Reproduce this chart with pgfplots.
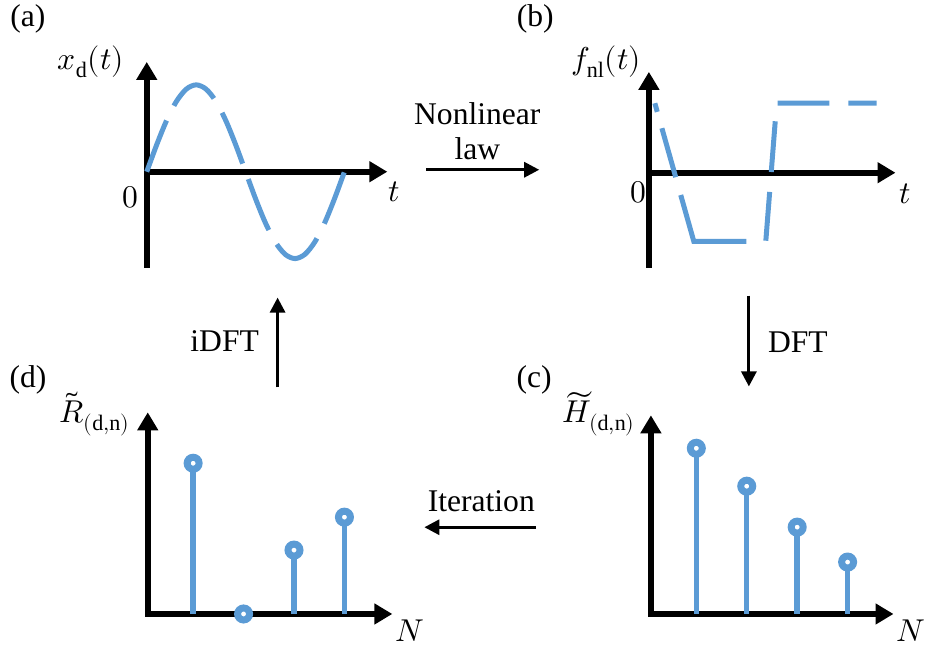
\documentclass[border=0pt]{standalone}
\usepackage{fontspec}
\usepackage{unicode-math}
\setmainfont{Liberation Serif}
\setmathfont{Latin Modern Math}
\usepackage{pgfplots}
\pgfplotsset{compat=1.18}
\usetikzlibrary{arrows.meta}

\definecolor{sigblue}{RGB}{91,155,213}

\pgfplotsset{
  sketch/.style={
    scale only axis, axis lines=middle, clip=false,
    xtick=\empty, ytick=\empty,
    axis line style={line width=0.12cm, line cap=rect,
      -{Triangle[length=0.36cm,width=0.4cm]}},
  },
  wave/.style={sigblue, line width=0.1cm},
  stem/.style={sigblue, ycomb, line width=0.11cm, mark=*, mark size=0.12cm,
    mark options={solid, fill=white, line width=0.14cm}},
}

\begin{document}
\begin{tikzpicture}[x=0.02cm, y=-0.02cm, font=\fontsize{18}{21.6}\selectfont,
  every node/.style={inner sep=0pt}]
\path (0,0) rectangle (925,650);

% (a) desired signal
\begin{axis}[sketch, at={(2.94cm,-3.44cm)}, anchor=origin,
  width=4.82cm, height=4.06cm,
  xmin=0, xmax=1.217, ymin=-1.069, ymax=1.264]
\addplot[wave, smooth, dash pattern=on 1.1cm off 0.33cm] coordinates {
  (0,0) (0.05,0.309) (0.1,0.588) (0.15,0.809) (0.2,0.951) (0.25,1)
  (0.3,0.951) (0.35,0.809) (0.4,0.588) (0.45,0.309) (0.5,0)
  (0.55,-0.309) (0.6,-0.588) (0.65,-0.809) (0.7,-0.951) (0.75,-1)
  (0.8,-0.951) (0.85,-0.809) (0.9,-0.588) (0.95,-0.309) (1,0)
};
\end{axis}

% (b) nonlinear force
\begin{axis}[sketch, at={(13.0cm,-3.46cm)}, anchor=origin,
  width=4.94cm, height=3.86cm,
  xmin=0, xmax=1.247, ymin=-1.057, ymax=1.161]
\addplot[wave, dash pattern=on 0.18cm off 0.34cm on 1.02cm off 0.37cm
    on 2.02cm off 0.4cm on 0.98cm off 0.4cm on 1.02cm off 0.38cm
    on 1.04cm off 0.38cm on 0.8cm off 0.1cm] coordinates {
  (0.030,0.80) (0.227,-0.79) (0.591,-0.79) (0.646,0.80) (1.152,0.80)
};
\end{axis}

% (d) response spectrum
\begin{axis}[sketch, at={(2.96cm,-12.3cm)}, anchor=origin,
  width=4.9cm, height=4.04cm,
  xmin=0, xmax=4.85, ymin=0, ymax=2.02]
\addplot[stem] coordinates {(0.9,1.51) (1.9,0) (2.9,0.64) (3.9,0.97)};
\end{axis}

% (c) force spectrum
\begin{axis}[sketch, at={(13.04cm,-12.3cm)}, anchor=origin,
  width=4.86cm, height=3.98cm,
  xmin=0, xmax=4.81, ymin=0, ymax=1.99]
\addplot[stem] coordinates {(0.9,1.66) (1.9,1.28) (2.9,0.87) (3.9,0.52)};
\end{axis}

% panel tags and axis names
\node[anchor=base] at (28,27) {(a)};
\node[anchor=base] at (536,27) {(b)};
\node[anchor=base] at (28,388) {(d)};
\node[anchor=base] at (535,388) {(c)};
\node[anchor=base] at (91,70) {$x_{\mathrm{d}}(t)$};
\node[anchor=base] at (607,70) {$f_{\mathrm{nl}}(t)$};
\node[anchor=base] at (131,208) {$0$};
\node[anchor=base] at (639,203) {$0$};
\node[anchor=base] at (395,202) {$t$};
\node[anchor=base] at (907,204) {$t$};
\node[anchor=base] at (95,423) {$\tilde{R}_{(\mathrm{d,n})}$};
\node[anchor=base] at (600,423) {$\widetilde{H}_{(\mathrm{d,n})}$};
\node[anchor=base] at (410,642) {$N$};
\node[anchor=base] at (912,642) {$N$};

% flow arrows
\tikzset{flow/.style={line width=0.06cm, -{Triangle[length=0.3cm,width=0.3cm]}}}
\node[anchor=base] at (478,125) {Nonlinear};
\node[anchor=base] at (478,160) {law};
\draw[flow] (427,170) -- (540,170);
\draw[flow] (750,296) -- (750,387);
\node[anchor=base] at (799,353) {DFT};
\draw[flow] (278,388) -- (278,298);
\node[anchor=base] at (225,352) {iDFT};
\node[anchor=base] at (482,512) {Iteration};
\draw[flow] (537,528) -- (425,528);
\end{tikzpicture}
\end{document}
